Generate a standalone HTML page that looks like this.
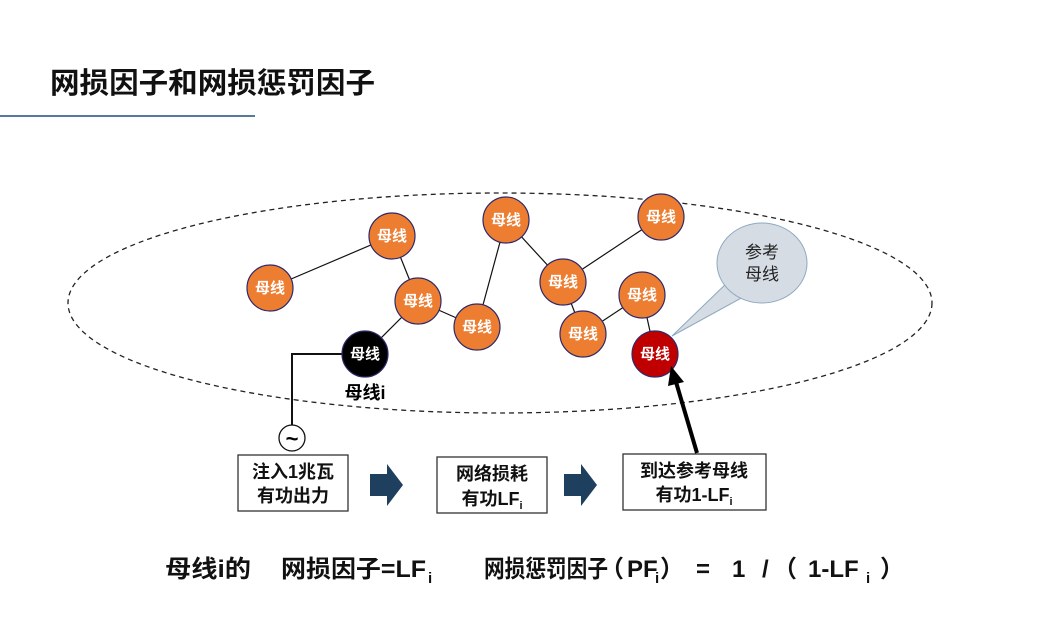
<!DOCTYPE html>
<html><head><meta charset="utf-8"><style>
body{margin:0;width:1052px;height:625px;background:#fff;overflow:hidden;font-family:"Liberation Sans","Noto Sans CJK SC",sans-serif}
</style></head><body>
<svg width="1052" height="625" xmlns="http://www.w3.org/2000/svg" font-family="Liberation Sans, Noto Sans CJK SC, sans-serif">
<text x="50" y="93" font-size="29" font-weight="bold" fill="#111" textLength="325" lengthAdjust="spacingAndGlyphs">网损因子和网损惩罚因子</text>
<line x1="0" y1="116" x2="255" y2="116" stroke="#1f4e79" stroke-width="1.5"/>
<ellipse cx="500" cy="303" rx="432" ry="110" fill="none" stroke="#222" stroke-width="1.3" stroke-dasharray="5,4"/>
<g stroke="#111" stroke-width="1.2">
<line x1="270" y1="288" x2="392" y2="236"/><line x1="392" y1="236" x2="418" y2="301"/>
<line x1="418" y1="301" x2="365" y2="354"/><line x1="418" y1="301" x2="477" y2="327"/>
<line x1="477" y1="327" x2="506" y2="220"/><line x1="506" y1="220" x2="563" y2="282"/>
<line x1="563" y1="282" x2="661" y2="217"/><line x1="563" y1="282" x2="583" y2="334"/>
<line x1="583" y1="334" x2="642" y2="295"/><line x1="642" y1="295" x2="655" y2="354"/>
</g>
<path d="M342 354 H292 V426" fill="none" stroke="#111" stroke-width="2"/>
<circle cx="292" cy="438" r="13" fill="#fff" stroke="#111" stroke-width="1.3"/>
<text x="292" y="446" font-size="22" font-weight="bold" text-anchor="middle">~</text>
<path d="M672 336 L730 280 L745 296 Z" fill="#d6dce4" stroke="#8ea9c1" stroke-width="1"/>
<ellipse cx="762" cy="263" rx="45" ry="40" fill="#d6dce4" stroke="#8ea9c1" stroke-width="1"/>
<path d="M731 283 L743 294" stroke="#d6dce4" stroke-width="4"/>
<text x="762" y="258" font-size="17" text-anchor="middle" fill="#222">参考</text>
<text x="762" y="280" font-size="17" text-anchor="middle" fill="#222">母线</text>
<g stroke="#2e2a6a" stroke-width="1.2" fill="#ed7d31">
<circle cx="270" cy="288" r="23"/><circle cx="392" cy="236" r="23"/><circle cx="418" cy="301" r="23"/>
<circle cx="477" cy="327" r="23"/><circle cx="506" cy="220" r="23"/><circle cx="563" cy="282" r="23"/>
<circle cx="661" cy="217" r="23"/><circle cx="642" cy="295" r="23"/><circle cx="583" cy="334" r="23"/>
<circle cx="365" cy="354" r="23" fill="#000"/><circle cx="655" cy="354" r="23" fill="#c00000"/>
</g>
<g font-size="15" font-weight="bold" fill="#fff" text-anchor="middle">
<text x="270" y="293">母线</text><text x="392" y="241">母线</text><text x="418" y="306">母线</text>
<text x="477" y="332">母线</text><text x="506" y="225">母线</text><text x="563" y="287">母线</text>
<text x="661" y="222">母线</text><text x="642" y="300">母线</text><text x="583" y="339">母线</text>
<text x="365" y="359">母线</text><text x="655" y="359">母线</text>
</g>
<text x="365" y="399" font-size="18" font-weight="bold" text-anchor="middle">母线i</text>
<line x1="697" y1="453" x2="676" y2="382" stroke="#000" stroke-width="4"/>
<path d="M671 366 L668 386 L684 382 Z" fill="#000"/>
<g fill="#fff" stroke="#333" stroke-width="1.3">
<rect x="238" y="455" width="110" height="56"/><rect x="437" y="457" width="110" height="56"/><rect x="623" y="454" width="143" height="56"/>
</g>
<g font-size="18" font-weight="bold" text-anchor="middle" fill="#111">
<text x="293" y="478">注入1兆瓦</text><text x="293" y="502">有功出力</text>
<text x="492" y="480">网络损耗</text><text x="492" y="505">有功LF<tspan font-size="11" dy="4">i</tspan></text>
<text x="694" y="477">到达参考母线</text><text x="694" y="501">有功1-LF<tspan font-size="11" dy="4">i</tspan></text>
</g>
<path d="M370 474 H387 V464 L403 485 L387 506 V496 H370 Z" fill="#1f3f5f"/>
<path d="M564 474 H581 V464 L597 485 L581 506 V496 H564 Z" fill="#1f3f5f"/>
<g font-size="24" font-weight="bold" fill="#111">
<text x="165" y="577" textLength="86" lengthAdjust="spacingAndGlyphs">母线i的</text>
<text x="281" y="577" textLength="145" lengthAdjust="spacingAndGlyphs">网损因子=LF</text>
<text x="428" y="583" font-size="15">i</text>
<text x="484" y="577" textLength="124" lengthAdjust="spacingAndGlyphs">网损惩罚因子</text>
<text x="600" y="577">（</text>
<text x="627" y="577">PF</text>
<text x="655" y="583" font-size="15">i</text>
<text x="660" y="577">）</text>
<text x="696" y="577">=</text>
<text x="732" y="577">1</text>
<text x="762" y="577">/</text>
<text x="773" y="577">（</text>
<text x="808" y="577">1-LF</text>
<text x="866" y="583" font-size="15">i</text>
<text x="880" y="577">）</text>
</g>
</svg>
</body></html>
